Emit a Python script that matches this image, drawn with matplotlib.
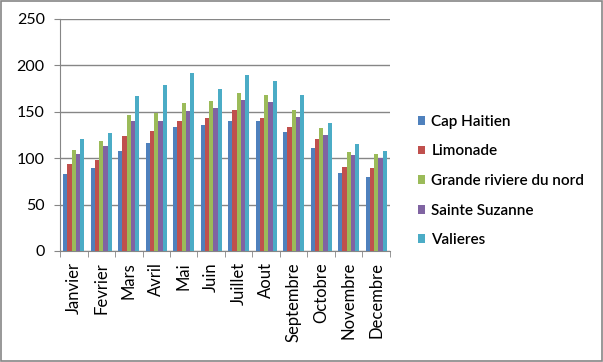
import numpy as np
import matplotlib.pyplot as plt
from matplotlib.patches import Rectangle

mois = ['Janvier', 'Fevrier', 'Mars', 'Avril', 'Mai', 'Juin', 'Juillet',
        'Aout', 'Septembre', 'Octobre', 'Novembre', 'Decembre']
cap_haitien = [83, 89, 108, 116, 134, 136, 140, 140, 128, 111, 84, 80]
limonade = [94, 98, 124, 129, 140, 143, 152, 143, 134, 121, 90, 89]
grande_riviere = [109, 118, 147, 149, 159, 162, 170, 168, 152, 133, 107, 105]
sainte_suzanne = [105, 113, 140, 140, 151, 154, 163, 161, 144, 125, 103, 100]
valieres = [121, 127, 167, 179, 192, 175, 190, 183, 168, 138, 115, 108]

series = [('Cap Haitien', cap_haitien, '#4F81BD'),
          ('Limonade', limonade, '#C0504D'),
          ('Grande riviere du nord', grande_riviere, '#9BBB59'),
          ('Sainte Suzanne', sainte_suzanne, '#8064A2'),
          ('Valieres', valieres, '#4BACC6')]

plt.rcParams['font.family'] = ['Lato', 'DejaVu Sans']
grid_col = '#868686'

fig = plt.figure(figsize=(6.03, 3.62), dpi=100)
ax = fig.add_axes([60/603, 1-251/362, 330/603, 232/362])

x = np.arange(len(mois))
w = 1/6.5
for k, (name, vals, col) in enumerate(series):
    ax.bar(x + (k - 2)*w, vals, width=w, color=col, label=name, zorder=3)

ax.set_ylim(0, 250)
ax.set_xlim(-0.5, len(mois) - 0.5)
ax.set_yticks(np.arange(0, 251, 50))
ax.yaxis.grid(True, color=grid_col, linewidth=1, zorder=0)
ax.set_xticks(x)
ax.set_xticklabels(mois, rotation=90, fontsize=12)
ax.set_xticks(np.arange(-0.5, len(mois), 1), minor=True)
ax.tick_params(axis='x', which='major', length=0, pad=8)
ax.tick_params(axis='x', which='minor', length=4, color=grid_col)
ax.tick_params(axis='y', length=4, color=grid_col, labelsize=11.5, pad=7)
for s in ['top', 'right']:
    ax.spines[s].set_visible(False)
for s in ['left', 'bottom']:
    ax.spines[s].set_color(grid_col)

fig.legend(loc='center left', bbox_to_anchor=(404/603, 1-181/362), frameon=False,
           prop={'size': 11, 'weight': 'semibold'}, handlelength=0.5, handleheight=0.5,
           handletextpad=0.4, labelspacing=1.02)

fig.patches.append(Rectangle((0.001, 0.002), 0.997, 0.996, transform=fig.transFigure,
                             fill=False, edgecolor=grid_col, linewidth=1.2))

fig.savefig('out.png', dpi=100)
